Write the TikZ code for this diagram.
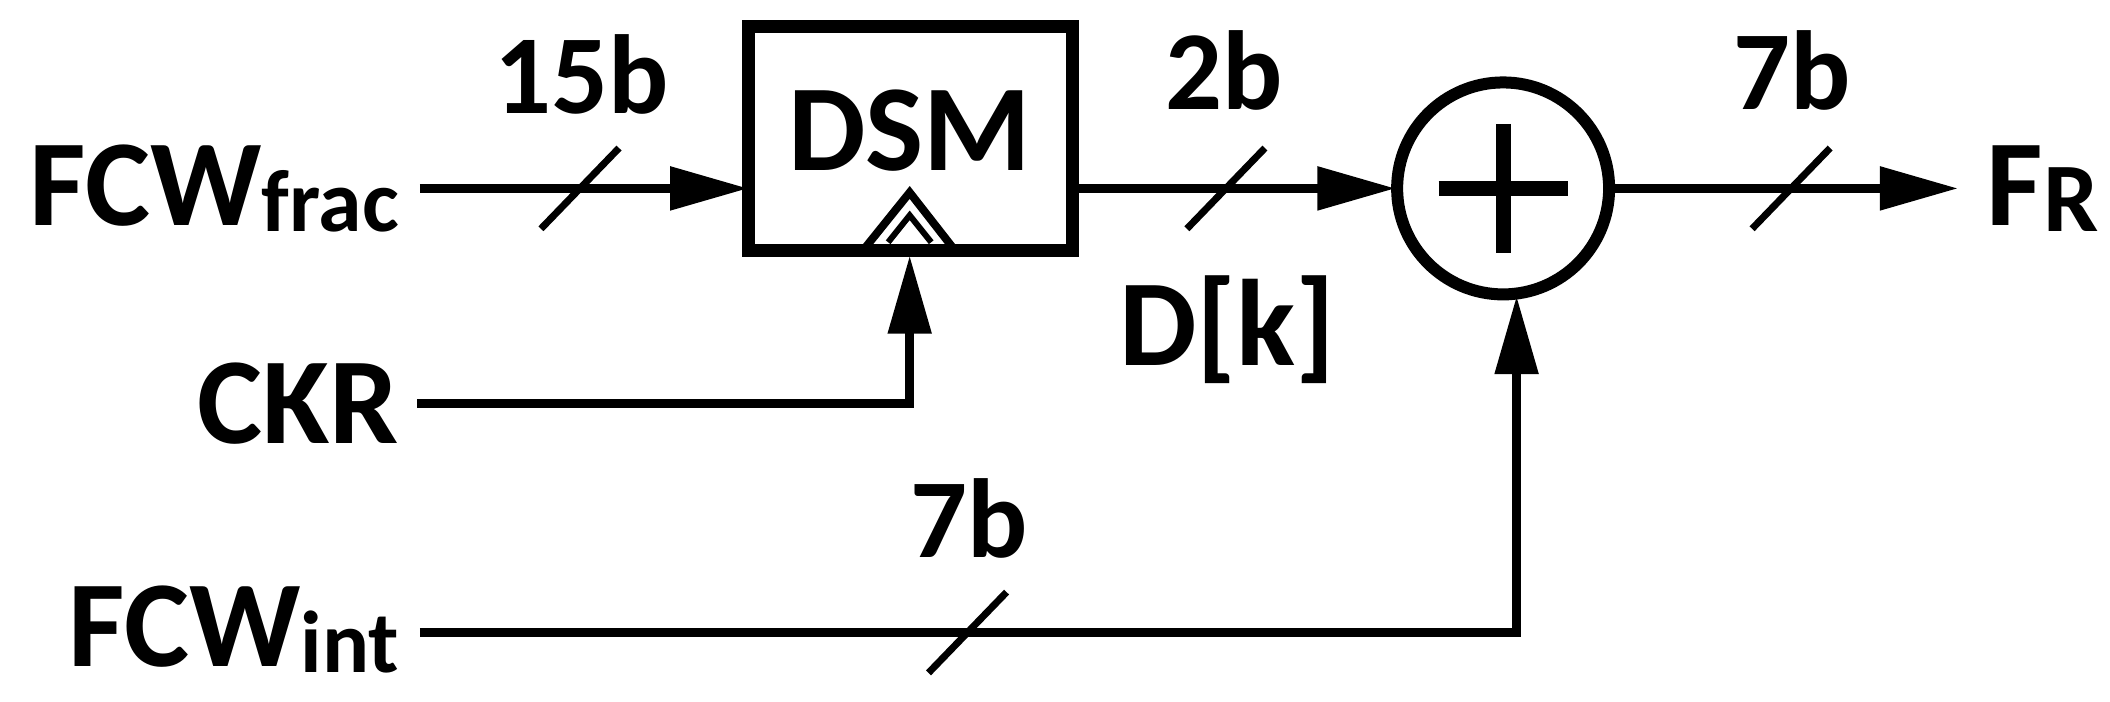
\documentclass[tikz,border=0pt]{standalone}
\usepackage{fontspec}
\setmainfont{Carlito}
\usetikzlibrary{arrows.meta}
\begin{document}
\begin{tikzpicture}[x=0.013457cm,y=-0.013457cm,
  wire/.style={line width=0.085cm},
  arr/.style={wire,-{Triangle[length=0.78cm,width=0.42cm]}},
  slash/.style={line width=0.07cm},
  big/.style={font=\fontsize{35}{40}\selectfont\bfseries,inner sep=0pt},
  lbl/.style={font=\fontsize{32}{38}\selectfont\bfseries,inner sep=0pt}]
\useasboundingbox (0,0) rectangle (1568,521);
\node[big,anchor=east] (fcwf) at (297,140) {FCW\raisebox{-0.1ex}{\fontsize{25}{30}\selectfont frac}};
\node[big,anchor=east] (ckr) at (297,300) {CKR};
\node[big,anchor=east] (fcwi) at (297,468) {FCW\raisebox{-0.1ex}{\fontsize{25}{30}\selectfont int}};
\draw[line width=0.13cm] (556,20) rectangle (797,186);
\node[big] (dsmt) at (676,97) {DSM};
\draw[line width=0.08cm] (643,184) -- (676,143) -- (708,184);
\draw[line width=0.06cm] (660,180) -- (676,160) -- (692,180);
\node[draw,circle,line width=0.12cm,minimum size=2.12cm,inner sep=0pt] (sum) at (1117,140) {};
\draw[line width=0.15cm] (1117,92) -- (1117,188) (1069,140) -- (1165,140);
\node[big,anchor=west] (fr) at (1476,140) {F\raisebox{-0.1ex}{\fontsize{28}{30}\selectfont R}};
\coordinate (c1) at (312,140);
\draw[arr] (c1) -- (556,140);
\draw[slash] (402,170) -- (460,110);
\node[lbl] (l15) at (432,55) {15b};
\coordinate (c2) at (797,140);
\draw[arr] (c2) -- (1037,140);
\draw[slash] (882,170) -- (940,110);
\node[lbl] (l2) at (910,52) {2b};
\node[big] (dk) at (912,245) {D[k]};
\coordinate (c3) at (1197,140);
\draw[arr] (c3) -- (1455,140);
\draw[slash] (1302,170) -- (1360,110);
\node[lbl] (l7) at (1332,52) {7b};
\coordinate (c4) at (310,300);
\draw[arr] (c4) -- (676,300) -- (676,190);
\coordinate (c5) at (312,470);
\draw[arr] (c5) -- (1127,470) -- (1127,220);
\draw[slash] (690,500) -- (748,440);
\node[lbl] (l7b) at (720,385) {7b};
\end{tikzpicture}
\end{document}
